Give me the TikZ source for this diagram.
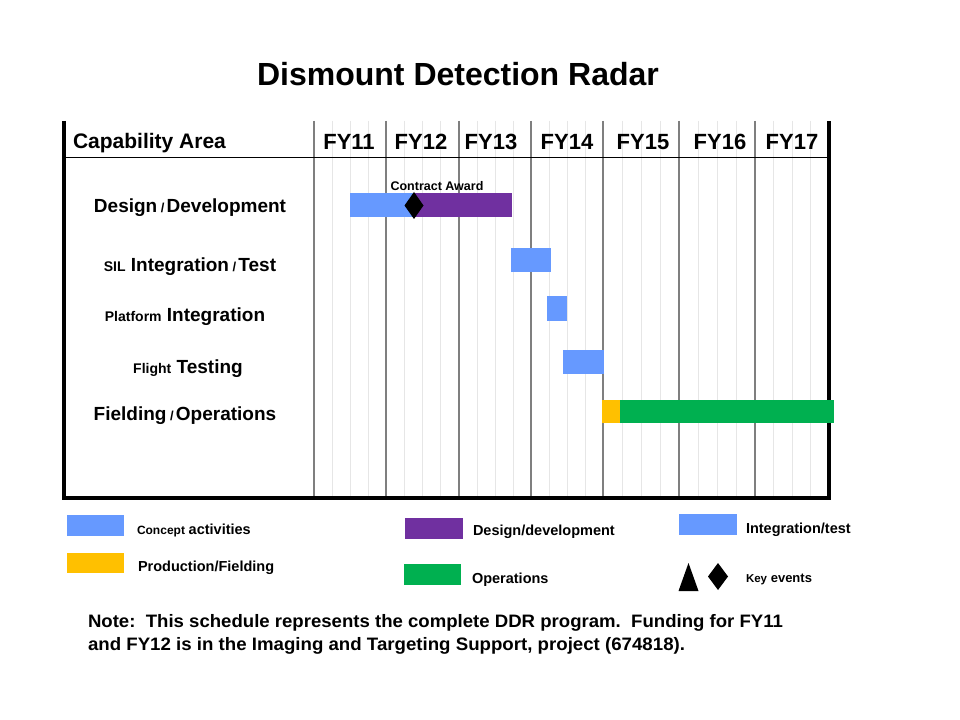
\documentclass[tikz,border=0pt]{standalone}
\usepackage{fontspec}
\setmainfont{Liberation Sans}
\usepackage{graphicx}
\newlength{\pxu}\setlength{\pxu}{0.75pt}
\newcommand{\fz}[1]{\fontsize{\fpeval{#1*0.75}pt}{\fpeval{#1*0.9}pt}\selectfont}
\definecolor{cblue}{HTML}{6699FF}
\definecolor{cpurple}{HTML}{7030A0}
\definecolor{cgreen}{HTML}{00B050}
\definecolor{cyellow}{HTML}{FFC000}
\definecolor{majgrid}{HTML}{7F7F7F}
\definecolor{mingrid}{HTML}{E6E6E6}
\tikzset{
  txt/.style={inner sep=0pt, outer sep=0pt, font=\bfseries},
  majline/.style={draw=majgrid, line width=0.8pt},
  minline/.style={draw=mingrid, line width=0.75pt},
  frameline/.style={draw=black, line width=2.3pt},
  hdrline/.style={draw=black, line width=0.8pt},
}
\begin{document}
\begin{tikzpicture}[x=0.75pt, y=-0.75pt]
\useasboundingbox[fill=white] (0,0) rectangle (960,720);

% title
\node[txt, font=\bfseries\fz{32}] (title) at (458,74) {Dismount Detection Radar};

% grid
\foreach \a/\b in {314/386,386/459,459/531,531/603,603/679,679/755,755/829}{
  \foreach \k in {1,2,3}{
    \draw[minline] ({\a+\k*(\b-\a)/4},121) -- ({\a+\k*(\b-\a)/4},498);
  }
}
\foreach \a in {314,386,459,531,603,679,755}{
  \draw[majline] (\a,121) -- (\a,498);
}

% frame
\draw[hdrline] (64,157.5) -- (829,157.5);
\draw[frameline] (64,121) -- (64,498) -- (829,498) -- (829,121);

% header
\node[txt, anchor=west, font=\bfseries\fz{21}] (cap) at (73,143) {Capability Area};
\foreach \n/\x in {11/349,12/421,13/491,14/567,15/643,16/720,17/792}{
  \node[txt, anchor=base, font=\bfseries\fz{22}] (fy\n) at (\x,149.5) {FY\n};
}

% row labels
\node[txt, font=\bfseries\fz{19}] (r1) at (190,207.5) {Design{\fz{13} /\,}Development};
\node[txt, font=\bfseries\fz{19}] (r2) at (190,266.5) {{\fz{14}SIL} Integration{\fz{13} /\,}Test};
\node[txt, font=\bfseries\fz{19}] (r3) at (185,316.5) {{\fz{14}Platform} Integration};
\node[txt, font=\bfseries\fz{19}] (r4) at (188,368.5) {{\fz{14}Flight} Testing};
\node[txt, font=\bfseries\fz{19}] (r5) at (185,415.5) {Fielding{\fz{13} /\,}Operations};

% bars
\fill[cblue] (350,193) rectangle (414,217);
\fill[cpurple] (414,193) rectangle (512,217);
\fill[black] (414,192) -- (423.5,205.5) -- (414,219) -- (404.5,205.5) -- cycle;
\node[txt, font=\bfseries\fz{12.5}] (award) at (437,186.5) {Contract Award};

\fill[cblue] (511,248) rectangle (551,272);
\fill[cblue] (547,296) rectangle (567,321);
\fill[cblue] (563,350) rectangle (604,374);
\fill[cyellow] (602,400) rectangle (620,423);
\fill[cgreen] (620,400) rectangle (834,423);

% legend
\fill[cblue] (67,515) rectangle (124,536);
\node[txt, anchor=west] (l1) at (137,530) {{\fz{12}Concept} {\fz{14.5}activities}};
\fill[cyellow] (67,553) rectangle (124,573);
\node[txt, anchor=west, font=\bfseries\fz{14.5}] (l2) at (138,567.5) {Production/Fielding};
\fill[cpurple] (405,518) rectangle (463,539);
\node[txt, anchor=west, font=\bfseries\fz{14.5}] (l3) at (473,531.5) {Design/development};
\fill[cgreen] (404,564) rectangle (461,585);
\node[txt, anchor=west, font=\bfseries\fz{14.5}] (l4) at (472,579.5) {Operations};
\fill[cblue] (679,514) rectangle (737,535);
\node[txt, anchor=west, font=\bfseries\fz{14.5}] (l5) at (746,529.5) {Integration/test};
\fill[black] (688.5,563) -- (698.5,591) -- (678.5,591) -- cycle;
\fill[black] (718,563) -- (728,576.5) -- (718,590) -- (708,576.5) -- cycle;
\node[txt, anchor=west] (l6) at (746,579) {{\fz{11.5}Key} {\fz{13}events}};

% note
\node[txt, anchor=west, font=\bfseries\fz{18}] (note1) at (88,622.5) {\resizebox{695\pxu}{\height}{Note:\ \ This schedule represents the complete DDR program.\ \ Funding for FY11}};
\node[txt, anchor=west, font=\bfseries\fz{18}] (note2) at (88,645.5) {\resizebox{597\pxu}{\height}{and FY12 is in the Imaging and Targeting Support, project (674818).}};
\end{tikzpicture}
\end{document}
